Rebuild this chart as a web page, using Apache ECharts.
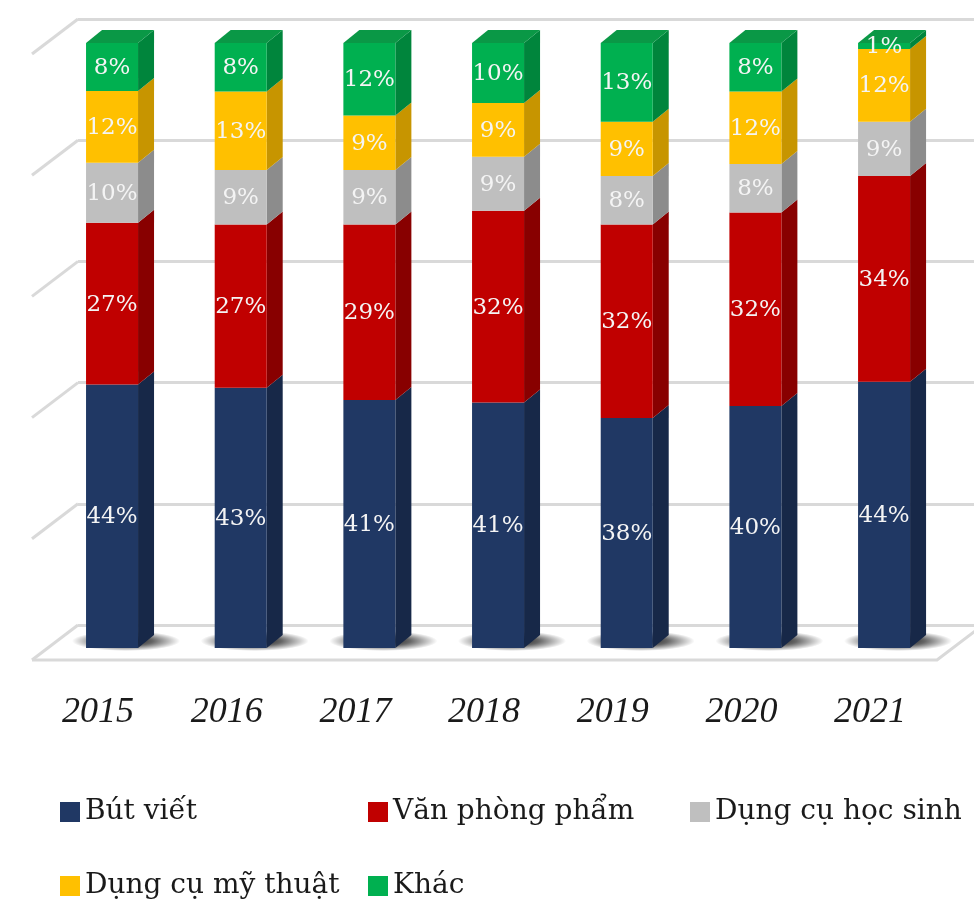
<!DOCTYPE html>
<html>
<head>
<meta charset="utf-8">
<script src="https://cdn.jsdelivr.net/npm/echarts@6/dist/echarts.min.js"></script>
<style>
  html, body { margin: 0; padding: 0; background: #fff; }
  #chart { width: 974px; height: 917px; }
</style>
</head>
<body>
<div id="chart"></div>
<script>
// data
var years = ['2015', '2016', '2017', '2018', '2019', '2020', '2021'];
var seriesNames = ['Bút viết', 'Văn phòng phẩm', 'Dụng cụ học sinh', 'Dụng cụ mỹ thuật', 'Khác'];
var butViet = [44, 43, 41, 41, 38, 40, 44];
var vanPhongPham = [27, 27, 29, 32, 32, 32, 34];
var dungCuHocSinh = [10, 9, 9, 9, 8, 8, 9];
var dungCuMyThuat = [12, 13, 9, 9, 9, 12, 12];
var khac = [8, 8, 12, 10, 13, 8, 1];
var gridTicks = [0, 20, 40, 60, 80, 100];

var allValues = [butViet, vanPhongPham, dungCuHocSinh, dungCuMyThuat, khac];

// styles
var frontColors = ['#203864', '#c00000', '#bfbfbf', '#ffc000', '#00b050'];
var sideColors = ['#172848', '#880000', '#8c8c8c', '#c79500', '#00853c'];
var topColors = ['#1b3058', '#a20000', '#a8a8a8', '#e2aa00', '#0a9846'];
var DX = 16, DY = -13;      // depth of the bars
var BAR_W = 52;

var chart = echarts.init(document.getElementById('chart'));

// stacked, normalised to 100%
var totals = years.map(function (y, i) {
  return allValues.reduce(function (s, arr) { return s + arr[i]; }, 0);
});

function buildData(k) {
  return years.map(function (y, i) {
    var base = 0;
    for (var j = 0; j < k; j++) base += allValues[j][i] / totals[i] * 100;
    var top = base + allValues[k][i] / totals[i] * 100;
    return [i, base, top, allValues[k][i], k === allValues.length - 1 ? 1 : 0];
  });
}

function makeRender(k) {
  return function (params, api) {
    var i = api.value(0);
    var p0 = api.coord([i, api.value(1)]);
    var p1 = api.coord([i, api.value(2)]);
    var x0 = p0[0] - BAR_W / 2, x1 = p0[0] + BAR_W / 2;
    var yb = p0[1], yt = p1[1];
    var children = [];
    if (k === 0) {
      // floor shadow
      children.push({
        type: 'circle',
        x: p0[0] + 14, y: yb - 7, scaleX: 5.4, scaleY: 1,
        shape: { cx: 0, cy: 0, r: 10 },
        style: {
          fill: new echarts.graphic.RadialGradient(0.5, 0.5, 0.5, [
            { offset: 0, color: 'rgba(0,0,0,0.95)' },
            { offset: 0.5, color: 'rgba(0,0,0,0.6)' },
            { offset: 1, color: 'rgba(0,0,0,0)' }
          ])
        }
      });
    }
    children.push({
      type: 'polygon',
      shape: { points: [[x1, yb], [x1 + DX, yb + DY], [x1 + DX, yt + DY], [x1, yt]] },
      style: { fill: sideColors[k] }
    });
    if (api.value(4) === 1) {
      children.push({
        type: 'polygon',
        shape: { points: [[x0, yt], [x0 + DX, yt + DY], [x1 + DX, yt + DY], [x1, yt]] },
        style: { fill: topColors[k] }
      });
    }
    children.push({
      type: 'rect',
      shape: { x: x0, y: yt, width: BAR_W, height: yb - yt },
      style: { fill: frontColors[k] }
    });
    children.push({
      type: 'text',
      style: {
        text: api.value(3) + '%',
        x: p0[0], y: (yb + yt) / 2 + 1,
        align: 'center', verticalAlign: 'middle',
        fill: '#f4f4f4',
        font: '23px "DejaVu Serif"'
      }
    });
    return { type: 'group', children: children };
  };
}

var series = [{
  type: 'custom',
  xAxisIndex: 1,
  yAxisIndex: 1,
  silent: true,
  z: 1,
  data: gridTicks.map(function (v) { return [0, v]; }),
  renderItem: function (params, api) {
    var p = api.coord([0, api.value(1)]);
    var st = { stroke: '#d9d9d9', lineWidth: 3, fill: 'none' };
    var children = [{
      type: 'line',
      shape: { x1: p[0], y1: p[1], x2: p[0] - 46, y2: p[1] + 35 },
      style: st
    }];
    if (api.value(1) === 0) {
      children.push({
        type: 'polyline',
        shape: { points: [[p[0] - 46, p[1] + 35], [937, p[1] + 35], [983, p[1]]] },
        style: st
      });
    }
    return { type: 'group', children: children };
  }
}];

seriesNames.forEach(function (name, k) {
  series.push({
    name: name,
    type: 'custom',
    xAxisIndex: 0,
    yAxisIndex: 0,
    z: 2,
    itemStyle: { color: frontColors[k] },
    data: buildData(k),
    renderItem: makeRender(k)
  });
});

var legendCommon = {
  padding: 0,
  icon: 'rect',
  itemWidth: 20,
  itemHeight: 20,
  selectedMode: false,
  textStyle: { fontFamily: 'DejaVu Serif', fontSize: 28, color: '#1a1a1a' }
};
var legendPos = [[60, 798], [368, 798], [690, 798], [60, 872], [368, 872]];

chart.setOption({
  animation: false,
  backgroundColor: '#ffffff',
  grid: [
    { left: 47.7, right: 25.6, top: 43, bottom: 269 },
    { left: 78, right: 0, top: 19, bottom: 292 }
  ],
  legend: seriesNames.map(function (name, k) {
    return Object.assign({ data: [name], left: legendPos[k][0], top: legendPos[k][1] }, legendCommon);
  }),
  xAxis: [{
    type: 'category',
    gridIndex: 0,
    data: years,
    axisLine: { show: false },
    axisTick: { show: false },
    axisLabel: {
      margin: 47,
      padding: [0, 28, 0, 0],
      fontFamily: 'Liberation Serif',
      fontStyle: 'italic',
      fontSize: 36,
      color: '#1a1a1a'
    }
  }, {
    type: 'value',
    gridIndex: 1,
    min: 0,
    max: 1,
    show: false
  }],
  yAxis: [{
    type: 'value',
    gridIndex: 0,
    min: 0,
    max: 100,
    show: false
  }, {
    type: 'value',
    gridIndex: 1,
    min: 0,
    max: 100,
    interval: 20,
    axisLine: { show: false },
    axisTick: { show: false },
    axisLabel: { show: false },
    splitLine: { lineStyle: { color: '#d9d9d9', width: 3 } }
  }],
  series: series
});
</script>
</body>
</html>
